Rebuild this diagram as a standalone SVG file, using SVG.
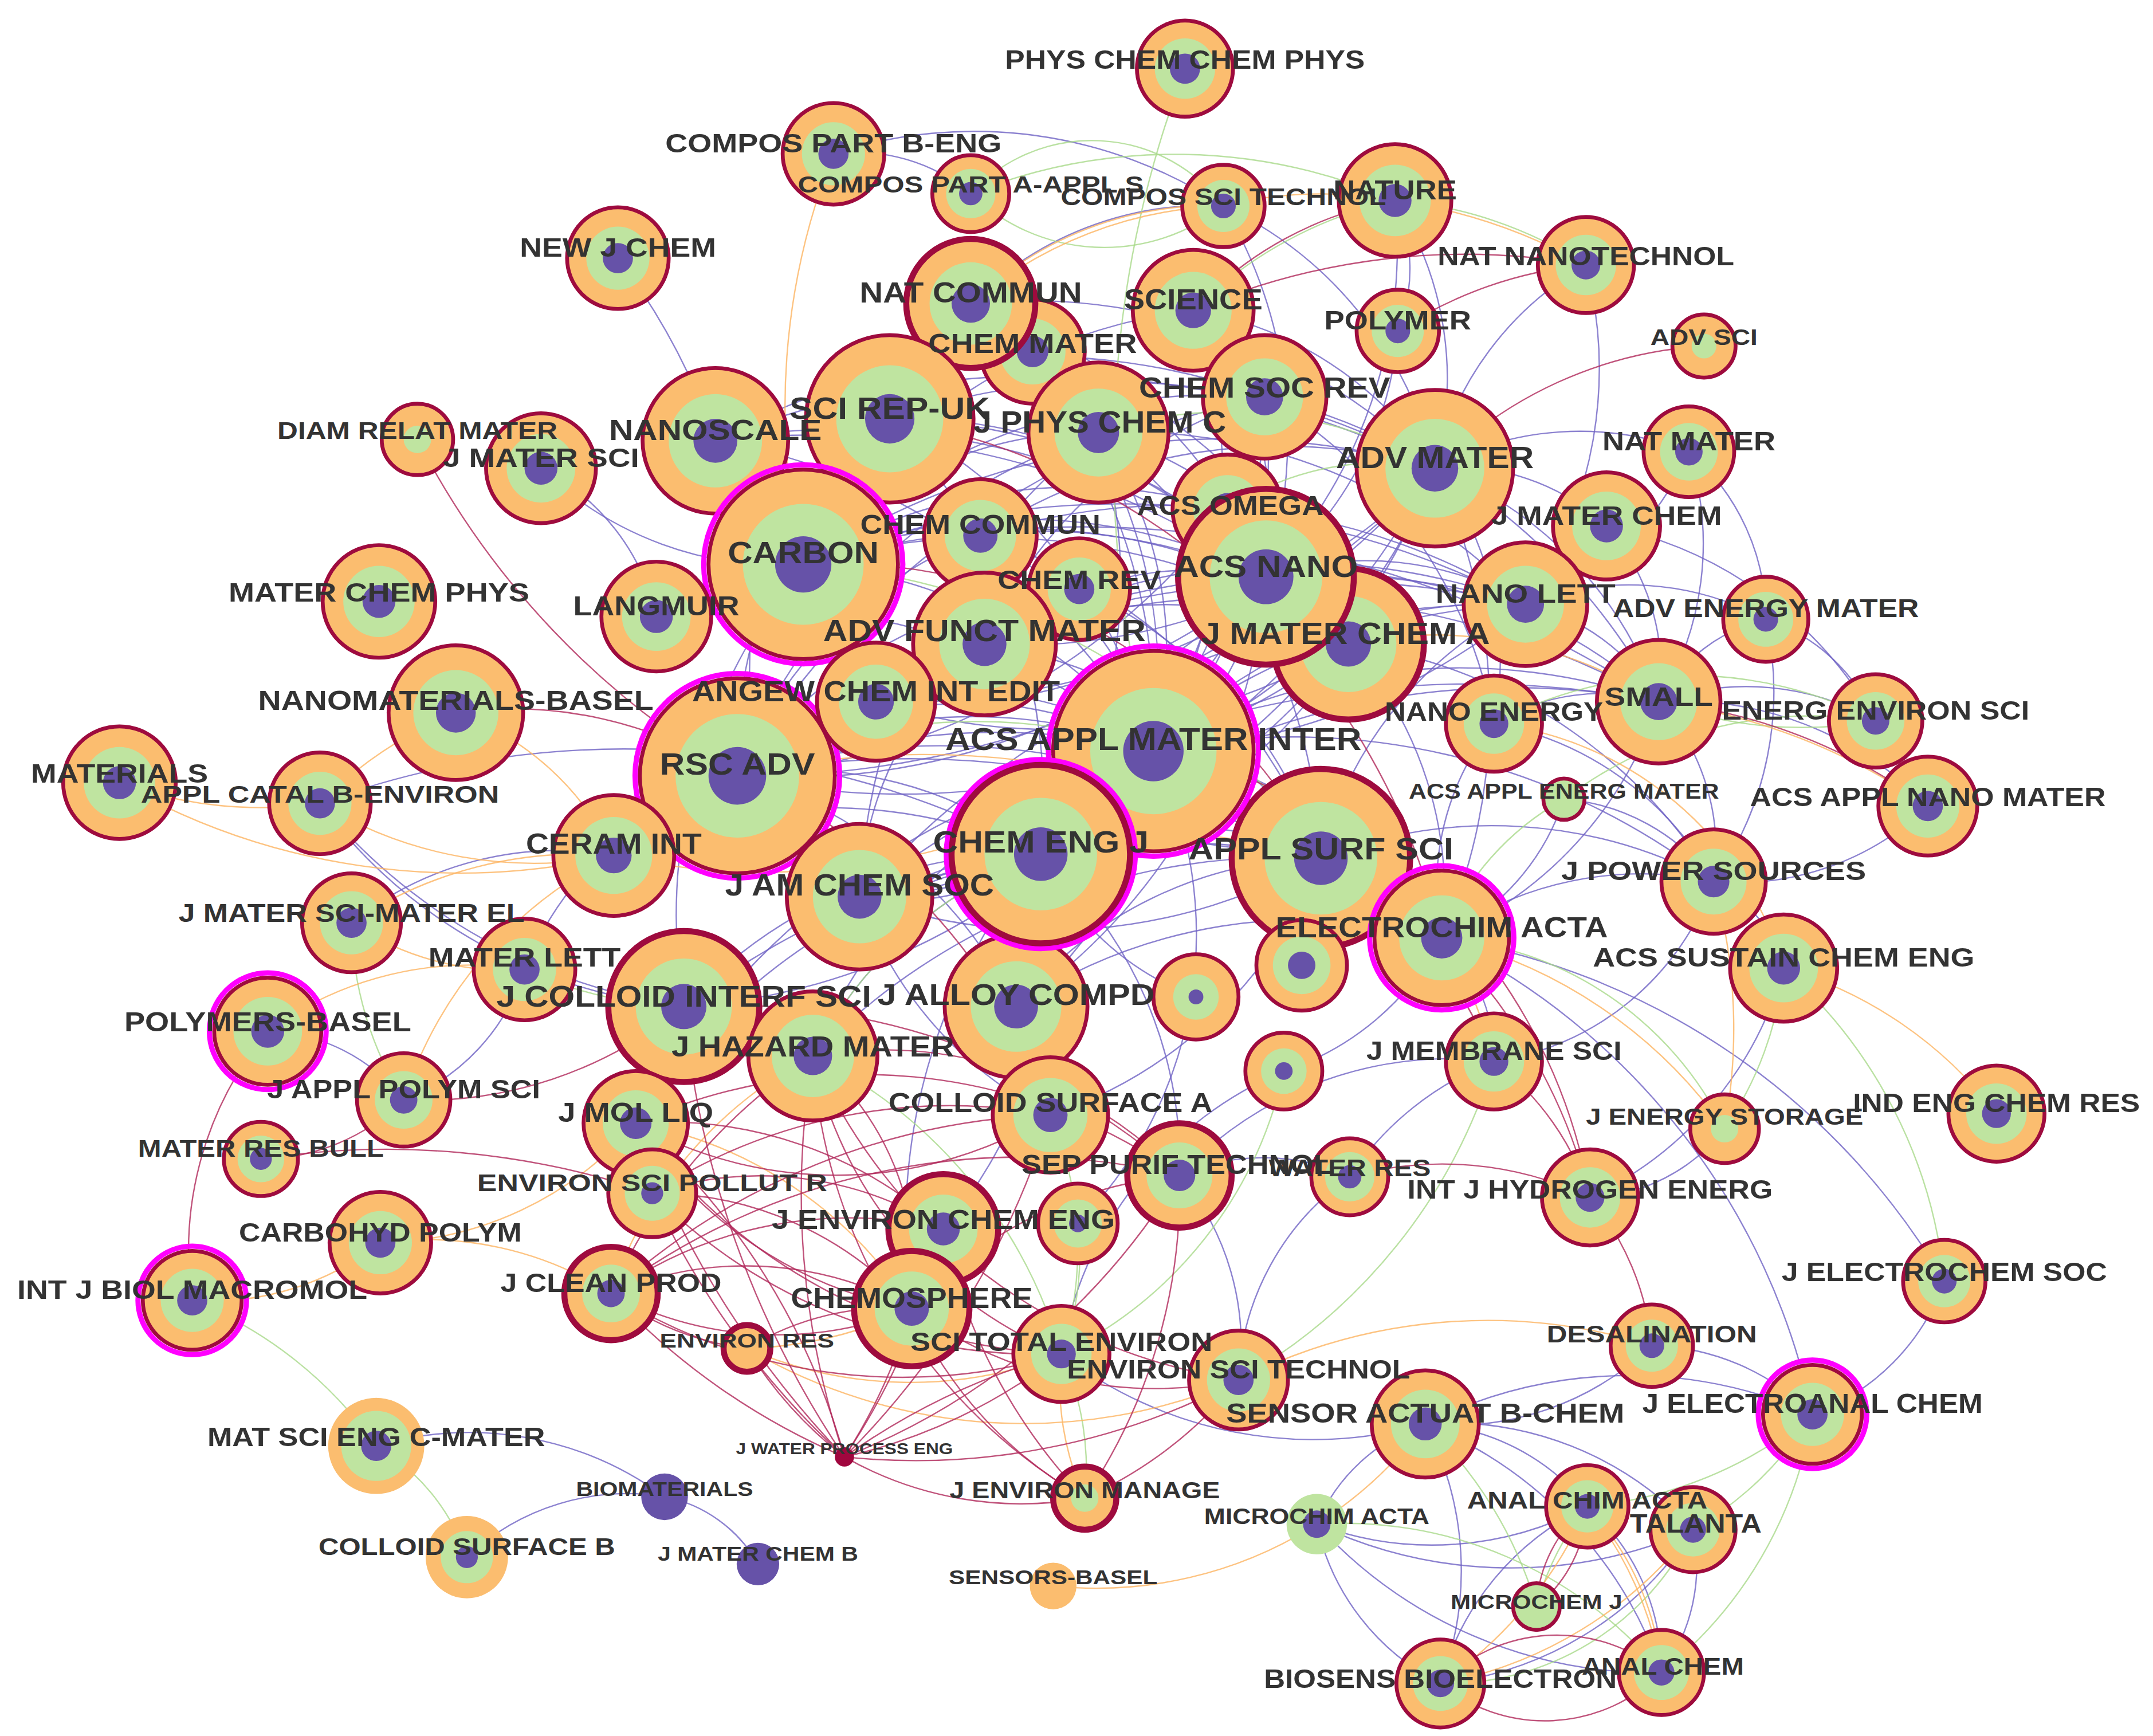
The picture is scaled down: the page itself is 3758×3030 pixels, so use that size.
<svg xmlns="http://www.w3.org/2000/svg" width="3758" height="3030" viewBox="0 0 3758 3030">
<defs>
<style>
.o{fill:#FBBD6F}
.s{stroke:#9E0B3E;stroke-width:2.8}
.t{stroke-width:4.4}
.m{fill:none;stroke:#FF00FF;stroke-width:3.8}
.g{fill:#BFE4A0}
.p{fill:#6652A8}
.cr{fill:#A0063E}
#edges path{fill:none;stroke-width:1;opacity:.8}
.ep path{stroke:#6F63C4}
.ec path{stroke:#B0285A}
.eg path{stroke:#A9D98B}
.eo path{stroke:#FCB462}
#labels text{font-family:"Liberation Sans",Arial,sans-serif;font-weight:bold;fill:#333;text-anchor:middle}
</style>
</defs>
<rect width="3758" height="3030" fill="#fff"/>
<g transform="scale(2.39668)">
<g id="edges">
<g class="ep">
<path d="M585 411A560 560 0 0 1 1045 341"/><path d="M585 411A400 400 0 0 1 922 420"/><path d="M585 411A280 280 0 0 1 800 315"/><path d="M585 411A430 430 0 0 1 921 289"/><path d="M585 411A350 350 0 0 1 840 547"/><path d="M585 411A480 480 0 0 1 982 469"/><path d="M585 411A630 630 0 0 1 1111 440"/><path d="M585 411A760 760 0 0 1 1208 511"/>
<path d="M648 305A480 480 0 0 1 1045 341"/><path d="M648 305A360 360 0 0 1 922 420"/><path d="M648 305A360 360 0 0 1 840 547"/><path d="M648 305A440 440 0 0 1 982 469"/><path d="M648 305A400 400 0 0 1 758 622"/><path d="M648 305A330 330 0 0 0 537 565"/>
<path d="M521 321A500 500 0 0 1 922 420"/><path d="M521 321A630 630 0 0 1 1045 341"/><path d="M521 321A450 450 0 0 1 840 547"/><path d="M521 321A580 580 0 0 1 982 469"/><path d="M521 321A480 480 0 0 1 921 289"/>
<path d="M800 315A280 280 0 0 1 840 547"/><path d="M800 315A410 410 0 0 1 962 625"/><path d="M800 315A370 370 0 0 1 758 622"/><path d="M800 315A420 420 0 0 0 537 565"/><path d="M800 315A290 290 0 0 1 982 469"/><path d="M800 315A400 400 0 0 1 1111 440"/><path d="M800 315A450 450 0 0 0 626 653"/>
<path d="M921 289A320 320 0 0 1 840 547"/><path d="M921 289A580 580 0 0 0 537 565"/><path d="M921 289A320 320 0 0 0 717 469"/><path d="M921 289A430 430 0 0 1 758 622"/><path d="M921 289A440 440 0 0 1 1208 511"/><path d="M921 289A350 350 0 0 1 1088 527"/>
<path d="M1045 341A350 350 0 0 1 840 547"/><path d="M1045 341A670 670 0 0 1 537 565"/><path d="M1045 341A420 420 0 0 1 717 469"/><path d="M1045 341A400 400 0 0 0 714 390"/><path d="M1045 341A480 480 0 0 1 758 622"/><path d="M1045 341A620 620 0 0 1 626 653"/><path d="M1045 341A280 280 0 0 1 1208 511"/><path d="M1045 341A230 230 0 0 1 1088 527"/><path d="M1045 341A530 530 0 0 1 638 511"/><path d="M1045 341A410 410 0 0 1 1050 683"/>
<path d="M922 420A490 490 0 0 1 537 565"/><path d="M922 420A310 310 0 0 1 758 622"/><path d="M922 420A250 250 0 0 0 717 469"/><path d="M922 420A370 370 0 0 1 638 511"/><path d="M922 420A360 360 0 0 1 1208 511"/><path d="M922 420A460 460 0 0 1 626 653"/><path d="M922 420A230 230 0 0 1 1111 440"/><path d="M922 420A420 420 0 0 1 740 733"/>
<path d="M894 371A380 380 0 0 0 585 411"/><path d="M894 371A490 490 0 0 1 537 565"/><path d="M894 371A340 340 0 0 1 758 622"/>
<path d="M714 390A240 240 0 0 1 840 547"/><path d="M714 390A340 340 0 0 1 982 469"/><path d="M714 390A400 400 0 0 1 962 625"/><path d="M714 390A480 480 0 0 1 1111 440"/><path d="M714 390A310 310 0 0 0 537 565"/>
<path d="M786 429A200 200 0 0 0 638 511"/><path d="M786 429A330 330 0 0 0 537 565"/><path d="M786 429A320 320 0 0 1 962 625"/>
<path d="M717 469A320 320 0 0 1 982 469"/><path d="M717 469A590 590 0 0 1 1208 511"/><path d="M717 469A360 360 0 0 1 962 625"/><path d="M717 469A470 470 0 0 1 1111 440"/><path d="M717 469A250 250 0 0 0 626 653"/>
<path d="M982 469A540 540 0 0 1 537 565"/><path d="M982 469A410 410 0 0 1 638 511"/><path d="M982 469A320 320 0 0 1 758 622"/><path d="M982 469A470 470 0 0 1 626 653"/><path d="M982 469A270 270 0 0 1 1050 683"/><path d="M982 469A370 370 0 0 1 1248 642"/>
<path d="M638 511A250 250 0 0 1 840 547"/><path d="M638 511A410 410 0 0 1 962 625"/><path d="M638 511A580 580 0 0 1 1111 440"/>
<path d="M840 547A360 360 0 0 0 537 565"/><path d="M840 547A290 290 0 0 1 626 653"/><path d="M840 547A250 250 0 0 1 740 733"/><path d="M840 547A350 350 0 0 1 1111 440"/><path d="M840 547A440 440 0 0 1 1208 511"/><path d="M840 547A460 460 0 0 0 1170 383"/><path d="M840 547A300 300 0 0 1 1050 683"/><path d="M840 547A500 500 0 0 1 1248 642"/><path d="M840 547A460 460 0 0 1 498 733"/>
<path d="M537 565A510 510 0 0 1 962 625"/><path d="M537 565A280 280 0 0 1 758 622"/><path d="M537 565A700 700 0 0 1 1111 440"/><path d="M537 565A320 320 0 0 1 740 733"/><path d="M537 565A640 640 0 0 1 1050 683"/><path d="M537 565A140 140 0 0 1 447 623"/>
<path d="M758 622A250 250 0 0 1 962 625"/><path d="M758 622A470 470 0 0 1 1111 440"/><path d="M758 622A550 550 0 0 1 1208 511"/><path d="M758 622A350 350 0 0 1 1050 683"/><path d="M758 622A170 170 0 0 1 626 653"/>
<path d="M962 625A400 400 0 0 1 626 653"/><path d="M962 625A280 280 0 0 1 1111 440"/><path d="M962 625A130 130 0 0 1 1050 683"/><path d="M962 625A340 340 0 0 1 1248 642"/>
<path d="M626 653A630 630 0 0 1 1111 440"/><path d="M626 653A720 720 0 0 1 1208 511"/>
<path d="M1111 440A150 150 0 0 1 1208 511"/><path d="M1111 440A100 100 0 0 1 1170 383"/><path d="M1111 440A210 210 0 0 1 1286 451"/>
<path d="M1208 511A120 120 0 0 1 1286 451"/><path d="M1208 511A190 190 0 0 1 1366 525"/><path d="M1208 511A160 160 0 0 1 1248 642"/><path d="M1208 511A280 280 0 0 1 1050 683"/>
<path d="M1088 527A150 150 0 0 1 1208 511"/><path d="M1088 527A230 230 0 0 1 1248 642"/>
<path d="M1170 383A160 160 0 0 0 1045 341"/><path d="M1170 383A160 160 0 0 1 1208 511"/><path d="M1170 383A290 290 0 0 1 1366 525"/>
<path d="M1230 329A220 220 0 0 0 1045 341"/><path d="M1230 329A200 200 0 0 1 1111 440"/><path d="M1230 329A220 220 0 0 1 1208 511"/><path d="M1230 329A160 160 0 0 1 1286 451"/>
<path d="M707 221A350 350 0 0 1 922 420"/><path d="M707 221A410 410 0 0 1 840 547"/><path d="M707 221A420 420 0 0 1 1045 341"/><path d="M707 221A290 290 0 0 0 585 411"/>
<path d="M869 226A240 240 0 0 1 922 420"/><path d="M869 226A390 390 0 0 1 840 547"/><path d="M869 226A260 260 0 0 1 1045 341"/><path d="M869 226A380 380 0 0 0 585 411"/>
<path d="M1016 146A240 240 0 0 1 1045 341"/><path d="M1016 146A350 350 0 0 1 922 420"/><path d="M1016 146A120 120 0 0 1 1018 241"/>
<path d="M1018 241A250 250 0 0 1 922 420"/><path d="M1155 193A230 230 0 0 0 1045 341"/><path d="M1155 193A300 300 0 0 1 1111 440"/>
<path d="M752 256A360 360 0 0 1 840 547"/><path d="M752 256A370 370 0 0 1 982 469"/>
<path d="M478 449A140 140 0 0 1 585 411"/><path d="M478 449A450 450 0 0 1 840 547"/><path d="M478 449A530 530 0 0 1 922 420"/>
<path d="M447 623A480 480 0 0 1 840 547"/><path d="M447 623A370 370 0 0 1 758 622"/>
<path d="M498 733A340 340 0 0 1 758 622"/><path d="M498 733A570 570 0 0 1 962 625"/><path d="M498 733A400 400 0 0 1 585 411"/>
<path d="M740 733A290 290 0 0 1 962 625"/><path d="M740 733A380 380 0 0 1 1050 683"/>
<path d="M1050 683A250 250 0 0 1 1248 642"/><path d="M1050 683A190 190 0 0 1 1088 527"/><path d="M1050 683A520 520 0 0 1 1416 933"/><path d="M1050 683A120 120 0 0 1 1088 773"/>
<path d="M1286 451A130 130 0 0 1 1366 525"/><path d="M1286 451A240 240 0 0 1 1248 642"/>
<path d="M1404 587A250 250 0 0 0 1208 511"/><path d="M1404 587A200 200 0 0 1 1248 642"/>
<path d="M1139 582A150 150 0 0 1 1248 642"/><path d="M1139 582A170 170 0 0 1 1050 683"/>
<path d="M450 188A470 470 0 0 1 537 565"/><path d="M394 341A250 250 0 0 0 585 411"/><path d="M394 341A160 160 0 0 1 478 449"/>
<path d="M607 112A330 330 0 0 1 891 150"/><path d="M607 112A130 130 0 0 1 707 141"/><path d="M891 150A240 240 0 0 0 707 221"/><path d="M891 150A280 280 0 0 1 1045 341"/><path d="M891 150A330 330 0 0 1 922 420"/>
<path d="M1248 642A100 100 0 0 1 1299 705"/><path d="M1248 642A200 200 0 0 1 1088 773"/>
<path d="M1256 822A130 130 0 0 1 1158 872"/><path d="M1299 705A260 260 0 0 1 1158 872"/><path d="M1416 933A160 160 0 0 1 1320 1030"/>
<path d="M1203 980A210 210 0 0 1 1038 1037"/><path d="M1320 1030A170 170 0 0 0 1203 980"/><path d="M1320 1030A500 500 0 0 0 1050 683"/>
<path d="M1038 1037A160 160 0 0 1 1156 1097"/><path d="M1038 1037A240 240 0 0 1 1233 1114"/><path d="M1038 1037A230 230 0 0 1 1049 1226"/><path d="M1038 1037A130 130 0 0 0 959 1110"/><path d="M1038 1037A300 300 0 0 1 1210 1218"/><path d="M1038 1037A330 330 0 0 1 1320 1030"/>
<path d="M959 1110A240 240 0 0 0 1156 1097"/><path d="M959 1110A330 330 0 0 0 1233 1114"/><path d="M959 1110A170 170 0 0 0 1049 1226"/><path d="M959 1110A330 330 0 0 0 1210 1218"/>
<path d="M1156 1097A160 160 0 0 1 1210 1218"/><path d="M1156 1097A200 200 0 0 0 1049 1226"/><path d="M1233 1114A130 130 0 0 1 1210 1218"/><path d="M1233 1114A250 250 0 0 1 1049 1226"/>
<path d="M274 1053A240 240 0 0 1 484 1090"/><path d="M340 1134A170 170 0 0 1 484 1090"/><path d="M484 1090A100 100 0 0 1 552 1139"/>
<path d="M233 585A370 370 0 0 0 498 733"/><path d="M233 585A420 420 0 0 0 498 733"/><path d="M233 585A640 640 0 0 1 758 622"/>
<path d="M256 672A240 240 0 0 1 447 623"/><path d="M195 751A130 130 0 0 1 294 801"/><path d="M294 801A150 150 0 0 0 382 706"/><path d="M382 706A240 240 0 0 1 537 565"/>
<path d="M463 818A420 420 0 0 1 758 622"/><path d="M463 818A540 540 0 0 1 840 547"/>
<path d="M592 769A480 480 0 0 1 962 625"/><path d="M592 769A380 380 0 0 1 840 547"/><path d="M592 769A300 300 0 0 1 758 622"/>
<path d="M765 812A320 320 0 0 0 962 625"/><path d="M765 812A320 320 0 0 1 840 547"/><path d="M765 812A200 200 0 0 0 740 733"/><path d="M765 812A280 280 0 0 1 626 653"/>
<path d="M859 856A300 300 0 0 0 758 622"/><path d="M859 856A150 150 0 0 1 983 857"/><path d="M859 856A270 270 0 0 1 1088 773"/>
<path d="M902 1005A190 190 0 0 0 859 856"/><path d="M902 1005A190 190 0 0 1 983 857"/>
<path d="M871 726A200 200 0 0 1 758 622"/><path d="M948 703A150 150 0 0 1 962 625"/><path d="M935 780A200 200 0 0 0 1050 683"/>
<path d="M773 986A300 300 0 0 0 1038 1037"/><path d="M773 986A270 270 0 0 1 935 780"/><path d="M983 857A220 220 0 0 1 1088 773"/>
<path d="M687 895A320 320 0 0 0 758 622"/><path d="M785 891A300 300 0 0 0 840 547"/><path d="M664 953A420 420 0 0 1 758 622"/>
</g>
<g class="eg">
<path d="M707 141A120 120 0 0 1 891 150"/><path d="M707 141A140 140 0 0 0 891 150"/><path d="M707 141A400 400 0 0 1 1016 146"/>
<path d="M863 50A800 800 0 0 0 840 547"/><path d="M1016 146A300 300 0 0 1 1155 193"/><path d="M869 226A300 300 0 0 1 1016 146"/>
<path d="M1208 511A300 300 0 0 0 1366 525"/><path d="M1299 705A350 350 0 0 1 1416 933"/><path d="M1299 705A250 250 0 0 1 1256 822"/>
<path d="M1320 1030A250 250 0 0 1 1233 1114"/><path d="M1320 1030A300 300 0 0 1 1156 1097"/><path d="M1320 1030A300 300 0 0 1 1210 1218"/>
<path d="M274 1053A300 300 0 0 0 140 947"/><path d="M274 1053A150 150 0 0 1 340 1134"/>
<path d="M1038 1037A300 300 0 0 1 1119 1170"/><path d="M959 1110A300 300 0 0 1 1210 1218"/><path d="M790 1091A200 200 0 0 0 773 986"/>
<path d="M256 672A250 250 0 0 0 294 801"/><path d="M382 706A300 300 0 0 0 498 733"/>
<path d="M585 411A500 500 0 0 1 962 625"/><path d="M537 565A400 400 0 0 1 840 547"/><path d="M758 622A300 300 0 0 0 592 769"/>
<path d="M765 812A250 250 0 0 1 773 986"/><path d="M592 769A350 350 0 0 1 773 986"/><path d="M785 891A200 200 0 0 1 773 986"/>
<path d="M1050 683A250 250 0 0 1 1256 822"/><path d="M1139 582A200 200 0 0 0 1050 683"/><path d="M1088 527A300 300 0 0 1 1366 525"/>
<path d="M1156 1097A200 200 0 0 0 1119 1170"/><path d="M1233 1114A200 200 0 0 1 1049 1226"/>
<path d="M800 315A300 300 0 0 1 1045 341"/><path d="M894 371A200 200 0 0 1 1045 341"/><path d="M1366 525A300 300 0 0 0 1139 582"/>
<path d="M1088 773A400 400 0 0 1 902 1005"/><path d="M935 780A300 300 0 0 1 773 986"/>
</g>
<g class="eo">
<path d="M607 112A500 500 0 0 0 585 411"/><path d="M891 150A250 250 0 0 0 707 221"/><path d="M891 150A300 300 0 0 0 707 221"/>
<path d="M1016 146A400 400 0 0 1 1155 193"/><path d="M891 150A300 300 0 0 1 1016 146"/>
<path d="M87 570A300 300 0 0 0 233 585"/><path d="M87 570A500 500 0 0 0 447 623"/><path d="M233 585A300 300 0 0 1 332 519"/><path d="M233 585A300 300 0 0 0 447 623"/><path d="M332 519A200 200 0 0 1 447 623"/>
<path d="M256 672A200 200 0 0 0 382 706"/><path d="M256 672A300 300 0 0 1 447 623"/><path d="M195 751A250 250 0 0 1 382 706"/><path d="M294 801A300 300 0 0 1 447 623"/>
<path d="M277 905A200 200 0 0 1 140 947"/><path d="M277 905A250 250 0 0 1 445 942"/><path d="M277 905A250 250 0 0 0 463 818"/>
<path d="M1208 511A450 450 0 0 1 1404 587"/><path d="M1299 705A300 300 0 0 1 1454 811"/><path d="M1050 683A350 350 0 0 1 1256 822"/><path d="M1248 642A400 400 0 0 1 1256 822"/><path d="M1088 773A300 300 0 0 0 1050 683"/>
<path d="M902 1005A400 400 0 0 1 1203 980"/><path d="M544 982A300 300 0 0 0 773 986"/><path d="M544 982A400 400 0 0 0 902 1005"/>
<path d="M959 1110A300 300 0 0 1 767 1155"/><path d="M959 1110A300 300 0 0 0 1038 1037"/>
<path d="M1156 1097A300 300 0 0 1 1049 1226"/><path d="M1233 1114A300 300 0 0 1 1049 1226"/><path d="M1156 1097A200 200 0 0 1 1210 1218"/><path d="M1156 1097A260 260 0 0 1 1210 1218"/>
<path d="M790 1091A200 200 0 0 1 773 986"/><path d="M664 953A300 300 0 0 1 544 982"/>
<path d="M537 565A600 600 0 0 1 1050 683"/><path d="M447 623A500 500 0 0 0 840 547"/><path d="M758 622A300 300 0 0 1 1050 683"/><path d="M982 469A300 300 0 0 1 1208 511"/><path d="M1088 527A250 250 0 0 1 1299 705"/>
<path d="M463 818A300 300 0 0 1 664 953"/><path d="M592 769A300 300 0 0 0 445 942"/>
</g>
<g class="ec">
<path d="M615 1061A700 700 0 0 1 463 818"/><path d="M615 1061A500 500 0 0 0 463 818"/><path d="M615 1061A600 600 0 0 1 592 769"/><path d="M615 1061A600 600 0 0 1 475 869"/><path d="M615 1061A500 500 0 0 1 445 942"/><path d="M615 1061A400 400 0 0 0 664 953"/><path d="M615 1061A300 300 0 0 1 544 982"/><path d="M615 1061A400 400 0 0 0 773 986"/><path d="M615 1061A500 500 0 0 1 773 986"/><path d="M615 1061A260 260 0 0 0 790 1091"/><path d="M615 1061A500 500 0 0 0 859 856"/><path d="M615 1061A500 500 0 0 0 687 895"/><path d="M615 1061A600 600 0 0 0 765 812"/><path d="M615 1061A500 500 0 0 0 902 1005"/><path d="M615 1061A700 700 0 0 1 498 733"/>
<path d="M790 1091A300 300 0 0 0 902 1005"/><path d="M790 1091A300 300 0 0 1 664 953"/><path d="M790 1091A400 400 0 0 1 687 895"/><path d="M790 1091A400 400 0 0 0 859 856"/><path d="M790 1091A400 400 0 0 1 592 769"/>
<path d="M445 942A250 250 0 0 1 664 953"/><path d="M445 942A260 260 0 0 0 664 953"/><path d="M445 942A400 400 0 0 0 773 986"/><path d="M445 942A300 300 0 0 1 687 895"/><path d="M445 942A400 400 0 0 1 592 769"/><path d="M445 942A500 500 0 0 1 859 856"/><path d="M445 942A500 500 0 0 1 765 812"/>
<path d="M475 869A250 250 0 0 1 664 953"/><path d="M475 869A250 250 0 0 1 687 895"/><path d="M475 869A400 400 0 0 0 773 986"/><path d="M475 869A400 400 0 0 1 765 812"/><path d="M190 844A600 600 0 0 1 475 869"/>
<path d="M463 818A300 300 0 0 0 664 953"/><path d="M463 818A300 300 0 0 1 687 895"/><path d="M463 818A400 400 0 0 1 859 856"/><path d="M463 818A400 400 0 0 0 773 986"/><path d="M463 818A300 300 0 0 0 765 812"/>
<path d="M664 953A300 300 0 0 1 859 856"/><path d="M664 953A300 300 0 0 0 902 1005"/>
<path d="M592 769A300 300 0 0 1 859 856"/><path d="M592 769A300 300 0 0 0 773 986"/><path d="M592 769A200 200 0 0 1 664 953"/><path d="M592 769A400 400 0 0 0 902 1005"/>
<path d="M544 982A200 200 0 0 1 664 953"/><path d="M544 982A200 200 0 0 1 445 942"/>
<path d="M294 801A150 150 0 0 1 190 844"/><path d="M294 801A300 300 0 0 0 498 733"/><path d="M195 751A250 250 0 0 0 140 947"/><path d="M304 320A600 600 0 0 0 537 565"/>
<path d="M1016 146A260 260 0 0 0 869 226"/><path d="M1155 193A300 300 0 0 0 1018 241"/><path d="M1155 193A500 500 0 0 0 869 226"/><path d="M1241 252A300 300 0 0 0 1045 341"/>
<path d="M1208 511A400 400 0 0 1 1404 587"/><path d="M1158 872A200 200 0 0 1 1203 980"/><path d="M1158 872A200 200 0 0 0 1088 773"/><path d="M983 857A250 250 0 0 1 1158 872"/><path d="M1050 683A400 400 0 0 1 1158 872"/>
<path d="M1049 1226A120 120 0 0 1 1210 1218"/><path d="M1049 1226A120 120 0 0 0 1210 1218"/><path d="M1156 1097A100 100 0 0 0 1119 1170"/><path d="M1156 1097A100 100 0 0 1 1119 1170"/>
<path d="M1088 773A300 300 0 0 0 962 625"/><path d="M585 411A400 400 0 0 1 962 625"/><path d="M648 305A500 500 0 0 1 1050 683"/><path d="M840 547A400 400 0 0 1 1158 872"/><path d="M498 733A500 500 0 0 1 859 856"/><path d="M537 565A400 400 0 0 1 765 812"/><path d="M332 519A300 300 0 0 1 537 565"/>
</g>
</g>
<g id="nodes">
<g id="n-pccp"><circle class="o s" cx="863" cy="50" r="35"/><circle class="g" cx="863" cy="50" r="22"/><circle class="p" cx="863" cy="50" r="11"/></g>
<g id="n-cpb"><circle class="o s" cx="607" cy="112" r="37"/><circle class="g" cx="607" cy="112" r="23"/><circle class="p" cx="607" cy="112" r="11"/></g>
<g id="n-cpa"><circle class="o s" cx="707" cy="141" r="28"/><circle class="g" cx="707" cy="141" r="18"/><circle class="p" cx="707" cy="141" r="8.5"/></g>
<g id="n-nature"><circle class="o s" cx="1016" cy="146" r="41"/><circle class="g" cx="1016" cy="146" r="26"/><circle class="p" cx="1016" cy="146" r="12"/></g>
<g id="n-cst"><circle class="o s" cx="891" cy="150" r="30"/><circle class="g" cx="891" cy="150" r="19"/><circle class="p" cx="891" cy="150" r="9"/></g>
<g id="n-njc"><circle class="o s" cx="450" cy="188" r="37"/><circle class="g" cx="450" cy="188" r="23"/><circle class="p" cx="450" cy="188" r="11"/></g>
<g id="n-nnt"><circle class="o s" cx="1155" cy="193" r="35"/><circle class="g" cx="1155" cy="193" r="22"/><circle class="p" cx="1155" cy="193" r="10.5"/></g>
<g id="n-cmt"><circle class="o s" cx="752" cy="256" r="38"/><circle class="g" cx="752" cy="256" r="24"/><circle class="p" cx="752" cy="256" r="11.5"/></g>
<g id="n-ncm"><circle class="o s t" cx="707" cy="221" r="47"/><circle class="g" cx="707" cy="221" r="30"/><circle class="p" cx="707" cy="221" r="14"/></g>
<g id="n-sci"><circle class="o s" cx="869" cy="226" r="44"/><circle class="g" cx="869" cy="226" r="28"/><circle class="p" cx="869" cy="226" r="13"/></g>
<g id="n-pol"><circle class="o s" cx="1018" cy="241" r="30"/><circle class="g" cx="1018" cy="241" r="19"/><circle class="p" cx="1018" cy="241" r="9"/></g>
<g id="n-ads"><circle class="o s" cx="1241" cy="252" r="23"/><circle class="g" cx="1241" cy="252" r="9"/></g>
<g id="n-jpc"><circle class="o s" cx="800" cy="315" r="51"/><circle class="g" cx="800" cy="315" r="32"/><circle class="p" cx="800" cy="315" r="15"/></g>
<g id="n-csr"><circle class="o s" cx="921" cy="289" r="45"/><circle class="g" cx="921" cy="289" r="28"/><circle class="p" cx="921" cy="289" r="13.5"/></g>
<g id="n-sru"><circle class="o s" cx="648" cy="305" r="61"/><circle class="g" cx="648" cy="305" r="39"/><circle class="p" cx="648" cy="305" r="18"/></g>
<g id="n-nsc"><circle class="o s" cx="521" cy="321" r="53"/><circle class="g" cx="521" cy="321" r="34"/><circle class="p" cx="521" cy="321" r="16"/></g>
<g id="n-drm"><circle class="o s" cx="304" cy="320" r="26"/><circle class="g" cx="304" cy="320" r="10"/></g>
<g id="n-jms"><circle class="o s" cx="394" cy="341" r="40"/><circle class="g" cx="394" cy="341" r="25"/><circle class="p" cx="394" cy="341" r="12"/></g>
<g id="n-nmt"><circle class="o s" cx="1230" cy="329" r="33"/><circle class="g" cx="1230" cy="329" r="21"/><circle class="p" cx="1230" cy="329" r="10"/></g>
<g id="n-adm"><circle class="o s" cx="1045" cy="341" r="57"/><circle class="g" cx="1045" cy="341" r="36"/><circle class="p" cx="1045" cy="341" r="17"/></g>
<g id="n-aom"><circle class="o s" cx="894" cy="371" r="40"/><circle class="g" cx="894" cy="371" r="25"/><circle class="p" cx="894" cy="371" r="12"/></g>
<g id="n-jmc"><circle class="o s" cx="1170" cy="383" r="39"/><circle class="g" cx="1170" cy="383" r="25"/><circle class="p" cx="1170" cy="383" r="12"/></g>
<g id="n-ccm"><circle class="o s" cx="714" cy="390" r="41"/><circle class="g" cx="714" cy="390" r="26"/><circle class="p" cx="714" cy="390" r="12.5"/></g>
<g id="n-car"><circle class="m" cx="585" cy="411" r="72.5"/><circle class="o s" cx="585" cy="411" r="69"/><circle class="g" cx="585" cy="411" r="44"/><circle class="p" cx="585" cy="411" r="20.5"/></g>
<g id="n-crv"><circle class="o s" cx="786" cy="429" r="37"/><circle class="g" cx="786" cy="429" r="23"/><circle class="p" cx="786" cy="429" r="11"/></g>
<g id="n-mcp"><circle class="o s" cx="276" cy="438" r="41"/><circle class="g" cx="276" cy="438" r="26"/><circle class="p" cx="276" cy="438" r="12"/></g>
<g id="n-lan"><circle class="o s" cx="478" cy="449" r="40"/><circle class="g" cx="478" cy="449" r="25"/><circle class="p" cx="478" cy="449" r="12"/></g>
<g id="n-nlt"><circle class="o s" cx="1111" cy="440" r="45"/><circle class="g" cx="1111" cy="440" r="28"/><circle class="p" cx="1111" cy="440" r="13.5"/></g>
<g id="n-aem"><circle class="o s" cx="1286" cy="451" r="31"/><circle class="g" cx="1286" cy="451" r="20"/><circle class="p" cx="1286" cy="451" r="9"/></g>
<g id="n-jma"><circle class="o s t" cx="982" cy="469" r="55"/><circle class="g" cx="982" cy="469" r="35"/><circle class="p" cx="982" cy="469" r="16.5"/></g>
<g id="n-ann"><circle class="o s t" cx="922" cy="420" r="64"/><circle class="g" cx="922" cy="420" r="41"/><circle class="p" cx="922" cy="420" r="20"/></g>
<g id="n-afm"><circle class="o s" cx="717" cy="469" r="52"/><circle class="g" cx="717" cy="469" r="33"/><circle class="p" cx="717" cy="469" r="16"/></g>
<g id="n-nmb"><circle class="o s" cx="332" cy="519" r="49"/><circle class="g" cx="332" cy="519" r="31"/><circle class="p" cx="332" cy="519" r="14.5"/></g>
<g id="n-rsc"><circle class="m" cx="537" cy="565" r="74.5"/><circle class="o s" cx="537" cy="565" r="71"/><circle class="g" cx="537" cy="565" r="45"/><circle class="p" cx="537" cy="565" r="21"/></g>
<g id="n-aci"><circle class="o s" cx="638" cy="511" r="43"/><circle class="g" cx="638" cy="511" r="27"/><circle class="p" cx="638" cy="511" r="13"/></g>
<g id="n-sml"><circle class="o s" cx="1208" cy="511" r="45"/><circle class="g" cx="1208" cy="511" r="28"/><circle class="p" cx="1208" cy="511" r="13.5"/></g>
<g id="n-ees"><circle class="o s" cx="1366" cy="525" r="34"/><circle class="g" cx="1366" cy="525" r="21"/><circle class="p" cx="1366" cy="525" r="10"/></g>
<g id="n-nen"><circle class="o s" cx="1088" cy="527" r="35"/><circle class="g" cx="1088" cy="527" r="22"/><circle class="p" cx="1088" cy="527" r="10.5"/></g>
<g id="n-mat"><circle class="o s" cx="87" cy="570" r="41"/><circle class="g" cx="87" cy="570" r="26"/><circle class="p" cx="87" cy="570" r="12"/></g>
<g id="n-acb"><circle class="o s" cx="233" cy="585" r="37"/><circle class="g" cx="233" cy="585" r="23"/><circle class="p" cx="233" cy="585" r="11"/></g>
<g id="n-aaem"><circle class="g s" cx="1139" cy="582" r="15"/></g>
<g id="n-aanm"><circle class="o s" cx="1404" cy="587" r="36"/><circle class="g" cx="1404" cy="587" r="23"/><circle class="p" cx="1404" cy="587" r="11"/></g>
<g id="n-cin"><circle class="o s" cx="447" cy="623" r="44"/><circle class="g" cx="447" cy="623" r="28"/><circle class="p" cx="447" cy="623" r="13"/></g>
<g id="n-ass"><circle class="o s t" cx="962" cy="625" r="65"/><circle class="g" cx="962" cy="625" r="41"/><circle class="p" cx="962" cy="625" r="19.5"/></g>
<g id="n-jacs"><circle class="o s" cx="626" cy="653" r="53"/><circle class="g" cx="626" cy="653" r="34"/><circle class="p" cx="626" cy="653" r="16"/></g>
<g id="n-jps"><circle class="o s" cx="1248" cy="642" r="38"/><circle class="g" cx="1248" cy="642" r="24"/><circle class="p" cx="1248" cy="642" r="11.5"/></g>
<g id="n-jmse"><circle class="o s" cx="256" cy="672" r="36"/><circle class="g" cx="256" cy="672" r="23"/><circle class="p" cx="256" cy="672" r="11"/></g>
<g id="n-mlt"><circle class="o s" cx="382" cy="706" r="37"/><circle class="g" cx="382" cy="706" r="23"/><circle class="p" cx="382" cy="706" r="11"/></g>
<g id="n-asce"><circle class="o s" cx="1299" cy="705" r="39"/><circle class="g" cx="1299" cy="705" r="25"/><circle class="p" cx="1299" cy="705" r="12"/></g>
<g id="n-u2"><circle class="o s" cx="948" cy="703" r="33"/><circle class="g" cx="948" cy="703" r="21"/><circle class="p" cx="948" cy="703" r="10"/></g>
<g id="n-jac"><circle class="o s" cx="740" cy="733" r="52"/><circle class="g" cx="740" cy="733" r="33"/><circle class="p" cx="740" cy="733" r="16"/></g>
<g id="n-aami"><circle class="m" cx="840" cy="547" r="76.5"/><circle class="o s" cx="840" cy="547" r="73"/><circle class="g" cx="840" cy="547" r="46"/><circle class="p" cx="840" cy="547" r="22"/></g>
<g id="n-cej"><circle class="m" cx="758" cy="622" r="68.8"/><circle class="o s t" cx="758" cy="622" r="65"/><circle class="g" cx="758" cy="622" r="41"/><circle class="p" cx="758" cy="622" r="19.5"/></g>
<g id="n-eca"><circle class="m" cx="1050" cy="683" r="52.5"/><circle class="o s" cx="1050" cy="683" r="49"/><circle class="g" cx="1050" cy="683" r="31"/><circle class="p" cx="1050" cy="683" r="15"/></g>
<g id="n-u1"><circle class="o s" cx="871" cy="726" r="31"/><circle class="g" cx="871" cy="726" r="16.6"/><circle class="p" cx="871" cy="726" r="5.4"/></g>
<g id="n-jcis"><circle class="o s t" cx="498" cy="733" r="55"/><circle class="g" cx="498" cy="733" r="35"/><circle class="p" cx="498" cy="733" r="16.5"/></g>
<g id="n-pb"><circle class="m" cx="195" cy="751" r="42.5"/><circle class="o s" cx="195" cy="751" r="39"/><circle class="g" cx="195" cy="751" r="25"/><circle class="p" cx="195" cy="751" r="12"/></g>
<g id="n-jhm"><circle class="o s" cx="592" cy="769" r="47"/><circle class="g" cx="592" cy="769" r="30"/><circle class="p" cx="592" cy="769" r="14"/></g>
<g id="n-jmem"><circle class="o s" cx="1088" cy="773" r="35"/><circle class="g" cx="1088" cy="773" r="22"/><circle class="p" cx="1088" cy="773" r="10.5"/></g>
<g id="n-u3"><circle class="o s" cx="935" cy="780" r="28"/><circle class="g" cx="935" cy="780" r="16.6"/><circle class="p" cx="935" cy="780" r="6.4"/></g>
<g id="n-japs"><circle class="o s" cx="294" cy="801" r="34"/><circle class="g" cx="294" cy="801" r="21"/><circle class="p" cx="294" cy="801" r="10"/></g>
<g id="n-jml"><circle class="o s" cx="463" cy="818" r="38"/><circle class="g" cx="463" cy="818" r="24"/><circle class="p" cx="463" cy="818" r="11.5"/></g>
<g id="n-csa"><circle class="o s" cx="765" cy="812" r="42"/><circle class="g" cx="765" cy="812" r="27"/><circle class="p" cx="765" cy="812" r="12.5"/></g>
<g id="n-iecr"><circle class="o s" cx="1454" cy="811" r="35"/><circle class="g" cx="1454" cy="811" r="22"/><circle class="p" cx="1454" cy="811" r="10.5"/></g>
<g id="n-jes"><circle class="o s" cx="1256" cy="822" r="25"/><circle class="g" cx="1256" cy="822" r="10"/></g>
<g id="n-mrb"><circle class="o s" cx="190" cy="844" r="27"/><circle class="g" cx="190" cy="844" r="17"/><circle class="p" cx="190" cy="844" r="8"/></g>
<g id="n-spt"><circle class="o s t" cx="859" cy="856" r="38"/><circle class="g" cx="859" cy="856" r="24"/><circle class="p" cx="859" cy="856" r="11.5"/></g>
<g id="n-wr"><circle class="o s" cx="983" cy="857" r="28"/><circle class="g" cx="983" cy="857" r="18"/><circle class="p" cx="983" cy="857" r="8.5"/></g>
<g id="n-espr"><circle class="o s" cx="475" cy="869" r="32"/><circle class="g" cx="475" cy="869" r="20"/><circle class="p" cx="475" cy="869" r="8"/></g>
<g id="n-ijhe"><circle class="o s" cx="1158" cy="872" r="35"/><circle class="g" cx="1158" cy="872" r="22"/><circle class="p" cx="1158" cy="872" r="10.5"/></g>
<g id="n-jece"><circle class="o s t" cx="687" cy="895" r="40"/><circle class="g" cx="687" cy="895" r="25"/><circle class="p" cx="687" cy="895" r="12"/></g>
<g id="n-u4"><circle class="o s" cx="785" cy="891" r="29"/><circle class="g" cx="785" cy="891" r="17.5"/><circle class="p" cx="785" cy="891" r="6.4"/></g>
<g id="n-cp"><circle class="o s" cx="277" cy="905" r="37"/><circle class="g" cx="277" cy="905" r="23"/><circle class="p" cx="277" cy="905" r="11"/></g>
<g id="n-ijbm"><circle class="m" cx="140" cy="947" r="39.5"/><circle class="o s" cx="140" cy="947" r="36"/><circle class="g" cx="140" cy="947" r="23"/><circle class="p" cx="140" cy="947" r="11"/></g>
<g id="n-jcp"><circle class="o s t" cx="445" cy="942" r="34"/><circle class="g" cx="445" cy="942" r="21"/><circle class="p" cx="445" cy="942" r="10"/></g>
<g id="n-chs"><circle class="o s t" cx="664" cy="953" r="42"/><circle class="g" cx="664" cy="953" r="27"/><circle class="p" cx="664" cy="953" r="12.5"/></g>
<g id="n-jecs"><circle class="o s" cx="1416" cy="933" r="30"/><circle class="g" cx="1416" cy="933" r="19"/><circle class="p" cx="1416" cy="933" r="9"/></g>
<g id="n-er"><circle class="o s t" cx="544" cy="982" r="17"/></g>
<g id="n-ste"><circle class="o s" cx="773" cy="986" r="35"/><circle class="g" cx="773" cy="986" r="22"/><circle class="p" cx="773" cy="986" r="10.5"/></g>
<g id="n-des"><circle class="o s" cx="1203" cy="980" r="30"/><circle class="g" cx="1203" cy="980" r="19"/><circle class="p" cx="1203" cy="980" r="9"/></g>
<g id="n-est"><circle class="o s" cx="902" cy="1005" r="36"/><circle class="g" cx="902" cy="1005" r="23"/><circle class="p" cx="902" cy="1005" r="11"/></g>
<g id="n-sab"><circle class="o s" cx="1038" cy="1037" r="39"/><circle class="g" cx="1038" cy="1037" r="25"/><circle class="p" cx="1038" cy="1037" r="12"/></g>
<g id="n-jeac"><circle class="m" cx="1320" cy="1030" r="39.5"/><circle class="o s" cx="1320" cy="1030" r="36"/><circle class="g" cx="1320" cy="1030" r="23"/><circle class="p" cx="1320" cy="1030" r="11"/></g>
<g id="n-msec"><circle class="o" cx="274" cy="1053" r="35"/><circle class="g" cx="274" cy="1053" r="25.5"/><circle class="p" cx="274" cy="1053" r="11"/></g>
<g id="n-jwpe"><circle class="cr" cx="615" cy="1061" r="7"/></g>
<g id="n-biom"><circle class="p" cx="484" cy="1090" r="17"/></g>
<g id="n-jem"><circle class="o s t" cx="790" cy="1091" r="23"/><circle class="g" cx="790" cy="1091" r="10"/></g>
<g id="n-mca"><circle class="g" cx="959" cy="1110" r="22"/><circle class="p" cx="959" cy="1110" r="10"/></g>
<g id="n-aca"><circle class="o s" cx="1156" cy="1097" r="30"/><circle class="g" cx="1156" cy="1097" r="19"/><circle class="p" cx="1156" cy="1097" r="9"/></g>
<g id="n-tal"><circle class="o s" cx="1233" cy="1114" r="31"/><circle class="g" cx="1233" cy="1114" r="19.5"/><circle class="p" cx="1233" cy="1114" r="9.5"/></g>
<g id="n-csb"><circle class="o" cx="340" cy="1134" r="30"/><circle class="g" cx="340" cy="1134" r="19"/><circle class="p" cx="340" cy="1134" r="8"/></g>
<g id="n-jmcb"><circle class="p" cx="552" cy="1139" r="15.5"/></g>
<g id="n-sens"><circle class="o" cx="767" cy="1155" r="17"/></g>
<g id="n-mcj"><circle class="g s" cx="1119" cy="1170" r="17"/></g>
<g id="n-bb"><circle class="o s" cx="1049" cy="1226" r="32"/><circle class="g" cx="1049" cy="1226" r="20"/><circle class="p" cx="1049" cy="1226" r="10"/></g>
<g id="n-ac"><circle class="o s" cx="1210" cy="1218" r="31"/><circle class="g" cx="1210" cy="1218" r="20"/><circle class="p" cx="1210" cy="1218" r="9.5"/></g>
</g>
<g id="labels">
<text x="863" y="50" font-size="19.5" textLength="262" lengthAdjust="spacingAndGlyphs">PHYS CHEM CHEM PHYS</text>
<text x="607" y="111" font-size="19" textLength="245" lengthAdjust="spacingAndGlyphs">COMPOS PART B-ENG</text>
<text x="707" y="140" font-size="17" textLength="252" lengthAdjust="spacingAndGlyphs">COMPOS PART A-APPL S</text>
<text x="891" y="149.5" font-size="18" textLength="237" lengthAdjust="spacingAndGlyphs">COMPOS SCI TECHNOL</text>
<text x="1016" y="145" font-size="20" textLength="90" lengthAdjust="spacingAndGlyphs">NATURE</text>
<text x="450" y="187" font-size="19.5" textLength="143" lengthAdjust="spacingAndGlyphs">NEW J CHEM</text>
<text x="1155" y="193" font-size="19.5" textLength="216" lengthAdjust="spacingAndGlyphs">NAT NANOTECHNOL</text>
<text x="707" y="220.5" font-size="21" textLength="162" lengthAdjust="spacingAndGlyphs">NAT COMMUN</text>
<text x="869" y="225.5" font-size="21" textLength="101" lengthAdjust="spacingAndGlyphs">SCIENCE</text>
<text x="1018" y="240" font-size="19" textLength="107" lengthAdjust="spacingAndGlyphs">POLYMER</text>
<text x="1241" y="251" font-size="16" textLength="78" lengthAdjust="spacingAndGlyphs">ADV SCI</text>
<text x="752" y="257" font-size="20" textLength="152" lengthAdjust="spacingAndGlyphs">CHEM MATER</text>
<text x="648" y="305" font-size="22" textLength="146" lengthAdjust="spacingAndGlyphs">SCI REP-UK</text>
<text x="801" y="315" font-size="22" textLength="184" lengthAdjust="spacingAndGlyphs">J PHYS CHEM C</text>
<text x="921" y="289.5" font-size="20.5" textLength="183" lengthAdjust="spacingAndGlyphs">CHEM SOC REV</text>
<text x="521" y="320.5" font-size="21" textLength="155" lengthAdjust="spacingAndGlyphs">NANOSCALE</text>
<text x="1045" y="341" font-size="22" textLength="144" lengthAdjust="spacingAndGlyphs">ADV MATER</text>
<text x="304" y="319.5" font-size="17.5" textLength="204" lengthAdjust="spacingAndGlyphs">DIAM RELAT MATER</text>
<text x="394" y="340" font-size="19.5" textLength="143" lengthAdjust="spacingAndGlyphs">J MATER SCI</text>
<text x="1230" y="328" font-size="19" textLength="126" lengthAdjust="spacingAndGlyphs">NAT MATER</text>
<text x="585" y="410" font-size="22.5" textLength="110" lengthAdjust="spacingAndGlyphs">CARBON</text>
<text x="714" y="389" font-size="20" textLength="175" lengthAdjust="spacingAndGlyphs">CHEM COMMUN</text>
<text x="896" y="375" font-size="20" textLength="136" lengthAdjust="spacingAndGlyphs">ACS OMEGA</text>
<text x="1170" y="382" font-size="19" textLength="168" lengthAdjust="spacingAndGlyphs">J MATER CHEM</text>
<text x="922" y="420" font-size="22.5" textLength="134" lengthAdjust="spacingAndGlyphs">ACS NANO</text>
<text x="276" y="438" font-size="19.5" textLength="219" lengthAdjust="spacingAndGlyphs">MATER CHEM PHYS</text>
<text x="478" y="448" font-size="20" textLength="121" lengthAdjust="spacingAndGlyphs">LANGMUIR</text>
<text x="786" y="429" font-size="19" textLength="119" lengthAdjust="spacingAndGlyphs">CHEM REV</text>
<text x="1111" y="439" font-size="19.5" textLength="131" lengthAdjust="spacingAndGlyphs">NANO LETT</text>
<text x="1286" y="449.5" font-size="18.5" textLength="223" lengthAdjust="spacingAndGlyphs">ADV ENERGY MATER</text>
<text x="717" y="467" font-size="22" textLength="235" lengthAdjust="spacingAndGlyphs">ADV FUNCT MATER</text>
<text x="980" y="469" font-size="22" textLength="210" lengthAdjust="spacingAndGlyphs">J MATER CHEM A</text>
<text x="332" y="517" font-size="20" textLength="288" lengthAdjust="spacingAndGlyphs">NANOMATERIALS-BASEL</text>
<text x="638" y="510.5" font-size="20.5" textLength="268" lengthAdjust="spacingAndGlyphs">ANGEW CHEM INT EDIT</text>
<text x="1208" y="514" font-size="19" textLength="79" lengthAdjust="spacingAndGlyphs">SMALL</text>
<text x="1366" y="524" font-size="19" textLength="224" lengthAdjust="spacingAndGlyphs">ENERG ENVIRON SCI</text>
<text x="1088" y="525" font-size="19" textLength="159" lengthAdjust="spacingAndGlyphs">NANO ENERGY</text>
<text x="840" y="546" font-size="23" textLength="303" lengthAdjust="spacingAndGlyphs">ACS APPL MATER INTER</text>
<text x="537" y="564" font-size="22.5" textLength="113" lengthAdjust="spacingAndGlyphs">RSC ADV</text>
<text x="87" y="570" font-size="19.5" textLength="129" lengthAdjust="spacingAndGlyphs">MATERIALS</text>
<text x="233" y="584.5" font-size="18" textLength="261" lengthAdjust="spacingAndGlyphs">APPL CATAL B-ENVIRON</text>
<text x="1139" y="581.5" font-size="15.5" textLength="226" lengthAdjust="spacingAndGlyphs">ACS APPL ENERG MATER</text>
<text x="1404" y="587" font-size="19" textLength="259" lengthAdjust="spacingAndGlyphs">ACS APPL NANO MATER</text>
<text x="447" y="621.5" font-size="21" textLength="128" lengthAdjust="spacingAndGlyphs">CERAM INT</text>
<text x="758" y="621" font-size="22.5" textLength="157" lengthAdjust="spacingAndGlyphs">CHEM ENG J</text>
<text x="962" y="626" font-size="22.5" textLength="193" lengthAdjust="spacingAndGlyphs">APPL SURF SCI</text>
<text x="626" y="652" font-size="22" textLength="196" lengthAdjust="spacingAndGlyphs">J AM CHEM SOC</text>
<text x="1248" y="641" font-size="19" textLength="222" lengthAdjust="spacingAndGlyphs">J POWER SOURCES</text>
<text x="1050" y="682.5" font-size="20.5" textLength="242" lengthAdjust="spacingAndGlyphs">ELECTROCHIM ACTA</text>
<text x="256" y="671.5" font-size="18.5" textLength="252" lengthAdjust="spacingAndGlyphs">J MATER SCI-MATER EL</text>
<text x="382" y="704" font-size="19" textLength="140" lengthAdjust="spacingAndGlyphs">MATER LETT</text>
<text x="1299" y="704" font-size="19" textLength="278" lengthAdjust="spacingAndGlyphs">ACS SUSTAIN CHEM ENG</text>
<text x="498" y="733" font-size="21.5" textLength="273" lengthAdjust="spacingAndGlyphs">J COLLOID INTERF SCI</text>
<text x="740" y="732" font-size="21.5" textLength="202" lengthAdjust="spacingAndGlyphs">J ALLOY COMPD</text>
<text x="195" y="751" font-size="20" textLength="209" lengthAdjust="spacingAndGlyphs">POLYMERS-BASEL</text>
<text x="592" y="769.5" font-size="20.5" textLength="206" lengthAdjust="spacingAndGlyphs">J HAZARD MATER</text>
<text x="1088" y="772" font-size="19" textLength="186" lengthAdjust="spacingAndGlyphs">J MEMBRANE SCI</text>
<text x="294" y="800" font-size="19" textLength="199" lengthAdjust="spacingAndGlyphs">J APPL POLYM SCI</text>
<text x="463" y="817" font-size="20" textLength="113" lengthAdjust="spacingAndGlyphs">J MOL LIQ</text>
<text x="765" y="810" font-size="20" textLength="236" lengthAdjust="spacingAndGlyphs">COLLOID SURFACE A</text>
<text x="1454" y="810" font-size="19" textLength="209" lengthAdjust="spacingAndGlyphs">IND ENG CHEM RES</text>
<text x="1256" y="819" font-size="17" textLength="202" lengthAdjust="spacingAndGlyphs">J ENERGY STORAGE</text>
<text x="190" y="842.5" font-size="17.5" textLength="179" lengthAdjust="spacingAndGlyphs">MATER RES BULL</text>
<text x="857" y="855" font-size="20" textLength="226" lengthAdjust="spacingAndGlyphs">SEP PURIF TECHNOL</text>
<text x="983" y="856.5" font-size="18" textLength="118" lengthAdjust="spacingAndGlyphs">WATER RES</text>
<text x="475" y="867.5" font-size="18" textLength="255" lengthAdjust="spacingAndGlyphs">ENVIRON SCI POLLUT R</text>
<text x="1158" y="873" font-size="19" textLength="266" lengthAdjust="spacingAndGlyphs">INT J HYDROGEN ENERG</text>
<text x="687" y="895" font-size="20" textLength="250" lengthAdjust="spacingAndGlyphs">J ENVIRON CHEM ENG</text>
<text x="277" y="904" font-size="19" textLength="206" lengthAdjust="spacingAndGlyphs">CARBOHYD POLYM</text>
<text x="140" y="946" font-size="19.5" textLength="255" lengthAdjust="spacingAndGlyphs">INT J BIOL MACROMOL</text>
<text x="445" y="941" font-size="19" textLength="161" lengthAdjust="spacingAndGlyphs">J CLEAN PROD</text>
<text x="664" y="952.5" font-size="20.5" textLength="176" lengthAdjust="spacingAndGlyphs">CHEMOSPHERE</text>
<text x="1416" y="933" font-size="19" textLength="237" lengthAdjust="spacingAndGlyphs">J ELECTROCHEM SOC</text>
<text x="544" y="981.5" font-size="15" textLength="127" lengthAdjust="spacingAndGlyphs">ENVIRON RES</text>
<text x="773" y="984" font-size="19" textLength="220" lengthAdjust="spacingAndGlyphs">SCI TOTAL ENVIRON</text>
<text x="1203" y="977.5" font-size="17.5" textLength="153" lengthAdjust="spacingAndGlyphs">DESALINATION</text>
<text x="902" y="1004" font-size="19" textLength="250" lengthAdjust="spacingAndGlyphs">ENVIRON SCI TECHNOL</text>
<text x="1038" y="1036" font-size="20" textLength="290" lengthAdjust="spacingAndGlyphs">SENSOR ACTUAT B-CHEM</text>
<text x="1320" y="1029" font-size="20" textLength="248" lengthAdjust="spacingAndGlyphs">J ELECTROANAL CHEM</text>
<text x="274" y="1053" font-size="19" textLength="246" lengthAdjust="spacingAndGlyphs">MAT SCI ENG C-MATER</text>
<text x="615" y="1059" font-size="11.5" textLength="158" lengthAdjust="spacingAndGlyphs">J WATER PROCESS ENG</text>
<text x="484" y="1089.5" font-size="15" textLength="129" lengthAdjust="spacingAndGlyphs">BIOMATERIALS</text>
<text x="790" y="1091" font-size="17" textLength="197" lengthAdjust="spacingAndGlyphs">J ENVIRON MANAGE</text>
<text x="959" y="1110" font-size="16" textLength="164" lengthAdjust="spacingAndGlyphs">MICROCHIM ACTA</text>
<text x="1156" y="1098.5" font-size="18" textLength="175" lengthAdjust="spacingAndGlyphs">ANAL CHIM ACTA</text>
<text x="1235" y="1116" font-size="19" textLength="96" lengthAdjust="spacingAndGlyphs">TALANTA</text>
<text x="340" y="1132.5" font-size="18" textLength="216" lengthAdjust="spacingAndGlyphs">COLLOID SURFACE B</text>
<text x="552" y="1136.5" font-size="15" textLength="146" lengthAdjust="spacingAndGlyphs">J MATER CHEM B</text>
<text x="767" y="1153.5" font-size="15" textLength="152" lengthAdjust="spacingAndGlyphs">SENSORS-BASEL</text>
<text x="1119" y="1171.5" font-size="15" textLength="125" lengthAdjust="spacingAndGlyphs">MICROCHEM J</text>
<text x="1049" y="1229" font-size="19" textLength="257" lengthAdjust="spacingAndGlyphs">BIOSENS BIOELECTRON</text>
<text x="1211" y="1219.5" font-size="18" textLength="118" lengthAdjust="spacingAndGlyphs">ANAL CHEM</text>
</g>
</g>
</svg>
